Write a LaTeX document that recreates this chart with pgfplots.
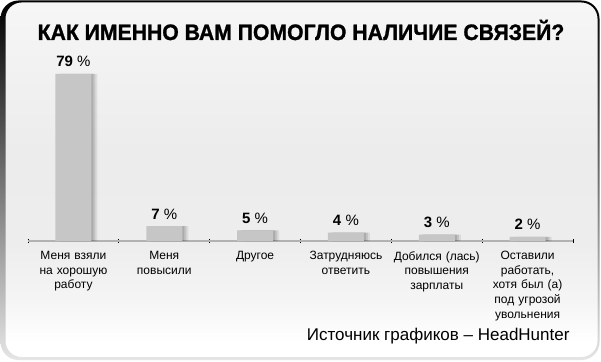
\documentclass[border=0pt]{standalone}
\usepackage{fontspec}
\setmainfont{Liberation Sans}
\newfontfamily\titlefont[FakeStretch=0.95, BoldFeatures={FakeBold=1.2}]{Liberation Sans}
\usepackage{pgfplots}
\pgfplotsset{compat=1.18}

\pgfdeclareverticalshading{panel}{100bp}{color(0bp)=(white); color(27bp)=(white); color(33bp)=(gray!8); color(41bp)=(gray!14); color(54bp)=(gray!15); color(67bp)=(gray!10); color(75bp)=(gray!7); color(100bp)=(gray!7)}

\pgfplotstableread{
x y
0 79
1 7
2 5
3 4
4 3
5 2
}\datatable

\begin{document}
\begin{tikzpicture}[x=1pt,y=1pt]
\fill[white] (0,0) rectangle (601,361);
\shade[shading=panel, rounded corners=16pt] (5.5,4) rectangle (597.5,358.5);
\shade[even odd rule, top color=black, middle color=black!85, bottom color=gray!20]
  [rounded corners=18pt] (0.5,1) rectangle (599.5,360.5)
  [rounded corners=16pt] (5.5,4) rectangle (597.5,358.5);

\node[font=\titlefont\bfseries\fontsize{22.3}{24}\selectfont, anchor=base] at (301,321)
  {КАК ИМЕННО ВАМ ПОМОГЛО НАЛИЧИЕ СВЯЗЕЙ?};

\begin{axis}[
  at={(28pt,120pt)}, anchor=south west, scale only axis,
  width=545pt, height=179.7pt,
  xmin=-0.5, xmax=5.5, ymin=0, ymax=85,
  axis x line=bottom, axis y line=none,
  x axis line style={-, draw=gray!60, line width=1.5pt},
  xtick={0,...,5},
  xticklabels={{Меня взяли\\на хорошую\\работу},{Меня\\повысили},{Другое},{Затрудняюсь\\ответить},{Добился (лась)\\повышения\\зарплаты},{Оставили\\работать,\\хотя был (а)\\под угрозой\\увольнения}},
  major tick length=0pt,
  minor xtick={-0.5,0.5,...,5.5},
  minor tick length=4pt,
  tick align=center,
  minor tick style={black, line width=0.8pt},
  xticklabel style={text width=90pt, align=center, font=\fontsize{12}{14.7}\selectfont, anchor=north, inner sep=0pt, yshift=-10pt},
  /pgf/number format/assume math mode=true,
  clip=false,
]
\addplot[ybar, bar width=36pt, bar shift=6pt, fill=black, draw=none, opacity=0.08] table[x=x,y=y] {\datatable};
\addplot[ybar, bar width=36pt, bar shift=4pt, fill=black, draw=none, opacity=0.1] table[x=x,y=y] {\datatable};
\addplot[ybar, bar width=36pt, bar shift=2pt, fill=black, draw=none, opacity=0.12] table[x=x,y=y] {\datatable};
\addplot[ybar, bar width=36pt, bar shift=0pt, fill=gray!45, draw=none,
  nodes near coords={\textbf{\pgfmathprintnumber{\pgfplotspointmeta}}~\%},
  every node near coord/.append style={font=\fontsize{15}{15}\selectfont, anchor=base, inner sep=0pt, yshift=7pt, black}]
  table[x=x,y=y] {\datatable};
\end{axis}

\node[font=\fontsize{17}{18}\selectfont, anchor=base east] at (573,21) {Источник графиков – HeadHunter};

\pgfresetboundingbox
\useasboundingbox (0,0) rectangle (601,361);
\end{tikzpicture}
\end{document}
